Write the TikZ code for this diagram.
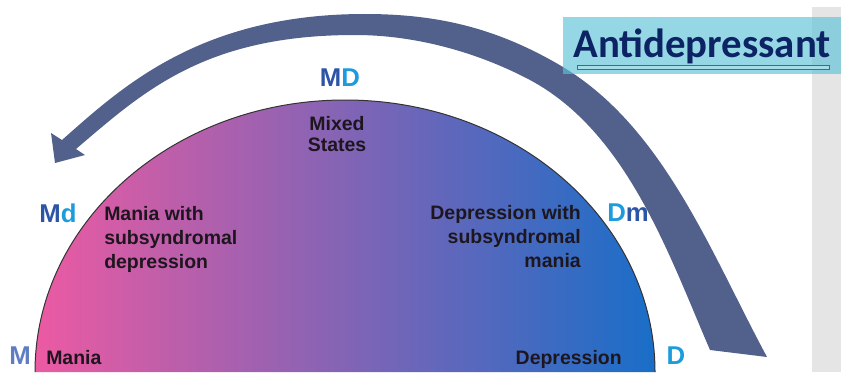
\documentclass[tikz,border=0pt]{standalone}
\usepackage{fontspec}
\setmainfont{Liberation Sans}
\newfontfamily\headfont{Carlito}

\definecolor{arrowblue}{RGB}{82,96,140}
\definecolor{boxcyan}{RGB}{94,194,217}
\definecolor{barcyan}{RGB}{165,222,232}
\definecolor{baredge}{RGB}{60,110,140}
\definecolor{headnavy}{RGB}{12,35,100}
\definecolor{panelgray}{RGB}{229,229,229}
\definecolor{maniapink}{RGB}{236,90,162}
\definecolor{mixedpurple}{RGB}{145,102,178}
\definecolor{depblue}{RGB}{25,110,200}
\definecolor{statetext}{RGB}{30,22,30}
\definecolor{mblue}{RGB}{45,85,165}
\definecolor{mlight}{RGB}{95,125,195}
\definecolor{dcyan}{RGB}{30,155,220}

\begin{document}
\begin{tikzpicture}[x=0.75pt,y=0.75pt,
  state/.style={font=\bfseries\fontsize{14.6}{18}\selectfont, text=statetext, inner sep=0pt},
  pole/.style={font=\bfseries\fontsize{19.3}{20}\selectfont, inner sep=0pt}]
 \useasboundingbox (0,0) rectangle (841,372);

 % grey panel on the right
 \fill[panelgray] (812,0) rectangle (841,365);

 % the half disc, pink to blue
 \shade[left color=maniapink, middle color=mixedpurple, right color=depblue]
   (35,0) arc[start angle=180, end angle=0, x radius=310, y radius=272] -- cycle;
 \draw[line width=0.75pt, black!80] (35,0) arc[start angle=180, end angle=0, x radius=310, y radius=272];

 % the big curved arrow
 \fill[arrowblue] (767,15) .. controls (711,119) and (664,244) .. (563,305)
   .. controls (499,343) and (440,358) .. (365,358)
   .. controls (200,358) and (122,285) .. (62,232)
   -- (51,239) -- (55,209) -- (85,217) -- (76,223)
   .. controls (144,281) and (205,337) .. (355,337)
   .. controls (415,337) and (477,320) .. (530,292)
   .. controls (627,240) and (669,117) .. (710,22) -- cycle;

 % title box
 \fill[boxcyan, fill opacity=0.65] (563,298) rectangle (841,355);
 \node[anchor=base west, inner sep=0pt, text=headnavy, font=\headfont\bfseries\fontsize{30.6}{32}\selectfont] (title) at (573,314) {Antidepressant};
 \draw[baredge, fill=barcyan, line width=0.6pt] (577,303) rectangle (829,307);

 % pole letters
 \node[pole, anchor=base] (md) at (340,286) {{\color{mblue}M}{\color{dcyan}D}};
 \node[pole, anchor=base] (mdl) at (58,150) {{\color{mblue}M}{\color{dcyan}d}};
 \node[pole, anchor=base] (dm) at (628,151) {{\color{dcyan}D}{\color{mblue}m}};
 \node[pole, anchor=base, text=mlight] (m) at (20,8) {M};
 \node[pole, anchor=base, text=dcyan] (d) at (676,8) {D};

 % states
 \node[state, align=center, font=\bfseries\fontsize{14.6}{15.75}\selectfont] (mixed) at (337,238) {Mixed\\States};
 \node[state, anchor=west, align=left] (maniasub) at (104,133) {Mania with\\subsyndromal\\depression};
 \node[state, anchor=east, align=right] (depsub) at (581,135) {Depression with\\subsyndromal\\mania};
 \node[state, anchor=base west] (mania) at (46,8) {Mania};
 \node[state, anchor=base east] (depr) at (622,8) {Depression};

\end{tikzpicture}
\end{document}
